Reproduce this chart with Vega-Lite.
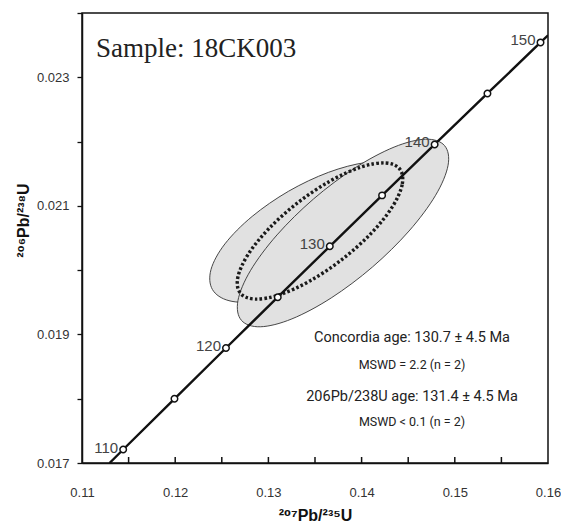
{
  "$schema": "https://vega.github.io/schema/vega-lite/v6.json",
  "width": 466,
  "height": 450,
  "autosize": "none",
  "padding": {"left": 82, "top": 13, "right": 13, "bottom": 64},
  "background": "white",
  "config": {
    "view": {"stroke": "#111", "strokeWidth": 1.5},
    "font": "Liberation Sans"
  },
  "datasets": {
    "ellA": [
      {"i": 0, "x": 0.145364, "y": 0.021488},
      {"i": 1, "x": 0.145515, "y": 0.021177},
      {"i": 2, "x": 0.144017, "y": 0.020778},
      {"i": 3, "x": 0.141097, "y": 0.020351},
      {"i": 4, "x": 0.137200, "y": 0.019960},
      {"i": 5, "x": 0.132918, "y": 0.019666},
      {"i": 6, "x": 0.128906, "y": 0.019513},
      {"i": 7, "x": 0.125770, "y": 0.019525},
      {"i": 8, "x": 0.123993, "y": 0.019699},
      {"i": 9, "x": 0.123841, "y": 0.020009},
      {"i": 10, "x": 0.125339, "y": 0.020409},
      {"i": 11, "x": 0.128260, "y": 0.020836},
      {"i": 12, "x": 0.132157, "y": 0.021227},
      {"i": 13, "x": 0.136438, "y": 0.021521},
      {"i": 14, "x": 0.140451, "y": 0.021674},
      {"i": 15, "x": 0.143586, "y": 0.021662}
    ],
    "ellB": [
      {"i": 0, "x": 0.148902, "y": 0.021937},
      {"i": 1, "x": 0.149278, "y": 0.021631},
      {"i": 2, "x": 0.147937, "y": 0.021164},
      {"i": 3, "x": 0.145084, "y": 0.020608},
      {"i": 4, "x": 0.141152, "y": 0.020047},
      {"i": 5, "x": 0.136742, "y": 0.019568},
      {"i": 6, "x": 0.132525, "y": 0.019242},
      {"i": 7, "x": 0.129141, "y": 0.019119},
      {"i": 8, "x": 0.127106, "y": 0.019219},
      {"i": 9, "x": 0.126731, "y": 0.019525},
      {"i": 10, "x": 0.128072, "y": 0.019992},
      {"i": 11, "x": 0.130925, "y": 0.020548},
      {"i": 12, "x": 0.134856, "y": 0.021109},
      {"i": 13, "x": 0.139266, "y": 0.021588},
      {"i": 14, "x": 0.143484, "y": 0.021914},
      {"i": 15, "x": 0.146868, "y": 0.022037}
    ],
    "ellD": [
      {"i": 0, "x": 0.144098, "y": 0.021572},
      {"i": 1, "x": 0.144353, "y": 0.021330},
      {"i": 2, "x": 0.143265, "y": 0.020977},
      {"i": 3, "x": 0.141001, "y": 0.020569},
      {"i": 4, "x": 0.137905, "y": 0.020167},
      {"i": 5, "x": 0.134447, "y": 0.019832},
      {"i": 6, "x": 0.131158, "y": 0.019615},
      {"i": 7, "x": 0.128533, "y": 0.019550},
      {"i": 8, "x": 0.126975, "y": 0.019646},
      {"i": 9, "x": 0.126720, "y": 0.019888},
      {"i": 10, "x": 0.127808, "y": 0.020241},
      {"i": 11, "x": 0.130072, "y": 0.020649},
      {"i": 12, "x": 0.133169, "y": 0.021051},
      {"i": 13, "x": 0.136626, "y": 0.021386},
      {"i": 14, "x": 0.139915, "y": 0.021603},
      {"i": 15, "x": 0.142540, "y": 0.021668}
    ],
    "conc": [
      {"t": 108.67, "x": 0.11296, "y": 0.017},
      {"t": 110, "x": 0.114419, "y": 0.017210},
      {"t": 115, "x": 0.119921, "y": 0.017999},
      {"t": 120, "x": 0.125449, "y": 0.018789},
      {"t": 125, "x": 0.131004, "y": 0.019580},
      {"t": 130, "x": 0.136588, "y": 0.020371},
      {"t": 135, "x": 0.142198, "y": 0.021163},
      {"t": 140, "x": 0.147837, "y": 0.021955},
      {"t": 145, "x": 0.153503, "y": 0.022748},
      {"t": 150, "x": 0.159197, "y": 0.023542},
      {"t": 150.7, "x": 0.16, "y": 0.023653}
    ],
    "pts": [
      {"t": 110, "x": 0.114419, "y": 0.017210, "lab": "110"},
      {"t": 115, "x": 0.119921, "y": 0.017999, "lab": ""},
      {"t": 120, "x": 0.125449, "y": 0.018789, "lab": "120"},
      {"t": 125, "x": 0.131004, "y": 0.019580, "lab": ""},
      {"t": 130, "x": 0.136588, "y": 0.020371, "lab": "130"},
      {"t": 135, "x": 0.142198, "y": 0.021163, "lab": ""},
      {"t": 140, "x": 0.147837, "y": 0.021955, "lab": "140"},
      {"t": 145, "x": 0.153503, "y": 0.022748, "lab": ""},
      {"t": 150, "x": 0.159197, "y": 0.023542, "lab": "150"}
    ],
    "xt": [
      {"x": 0.115, "y": 0.017},
      {"x": 0.12, "y": 0.017},
      {"x": 0.125, "y": 0.017},
      {"x": 0.13, "y": 0.017},
      {"x": 0.135, "y": 0.017},
      {"x": 0.14, "y": 0.017},
      {"x": 0.145, "y": 0.017},
      {"x": 0.15, "y": 0.017},
      {"x": 0.155, "y": 0.017}
    ],
    "sample": [
      {"x": 0.111502, "y": 0.023308, "text": "Sample: 18CK003"}
    ],
    "notes": [
      {"x": 0.145408, "y": 0.018944, "text": "Concordia age: 130.7 ± 4.5 Ma", "kind": "big"},
      {"x": 0.145408, "y": 0.018524, "text": "MSWD = 2.2 (n = 2)", "kind": "small"},
      {"x": 0.145408, "y": 0.018027, "text": "206Pb/238U age: 131.4 ± 4.5 Ma", "kind": "big"},
      {"x": 0.145408, "y": 0.017638, "text": "MSWD < 0.1 (n = 2)", "kind": "small"}
    ]
  },
  "encoding": {
    "x": {
      "field": "x",
      "type": "quantitative",
      "scale": {"domain": [0.11, 0.16], "zero": false, "nice": false},
      "axis": {
        "title": "²⁰⁷Pb/²³⁵U",
        "values": [0.11, 0.115, 0.12, 0.125, 0.13, 0.135, 0.14, 0.145, 0.15, 0.155, 0.16],
        "labelExpr": "round(datum.value*1000) % 10 == 0 ? format(datum.value, '.2f') : ''",
        "grid": false,
        "zindex": 1,
        "ticks": false,
        "domainColor": "#111",
        "domainWidth": 1.5,
        "labelFontSize": 13,
        "labelColor": "#333",
        "labelPadding": 23,
        "labelFlush": false,
        "labelOverlap": false,
        "titleFont": "Liberation Sans, DejaVu Sans",
        "titleFontSize": 16,
        "titleFontWeight": "bold",
        "titleColor": "#111",
        "titleY": 52,
        "titleBaseline": "middle"
      }
    },
    "y": {
      "field": "y",
      "type": "quantitative",
      "scale": {"domain": [0.017, 0.024], "zero": false, "nice": false},
      "axis": {
        "title": "²⁰⁶Pb/²³⁸U",
        "values": [0.017, 0.018, 0.019, 0.02, 0.021, 0.022, 0.023, 0.024],
        "labelExpr": "round(datum.value*1000) % 2 == 1 ? format(datum.value, '.3f') : ''",
        "grid": false,
        "zindex": 1,
        "tickSize": 5,
        "tickColor": "#111",
        "tickWidth": 1.3,
        "domainColor": "#111",
        "domainWidth": 1.5,
        "labelFontSize": 13,
        "labelColor": "#333",
        "labelPadding": 8,
        "labelFlush": false,
        "labelOverlap": false,
        "titleFont": "Liberation Sans, DejaVu Sans",
        "titleFontSize": 16,
        "titleFontWeight": "bold",
        "titleColor": "#111",
        "titleX": -59,
        "titleY": 207,
        "titleAlign": "center",
        "titleBaseline": "middle"
      }
    }
  },
  "layer": [
    {
      "data": {"name": "ellA"},
      "mark": {"type": "line", "interpolate": "cardinal-closed", "fill": "#e1e1e1", "stroke": "#333", "strokeWidth": 0.9},
      "encoding": {"order": {"field": "i", "type": "quantitative"}}
    },
    {
      "data": {"name": "ellB"},
      "mark": {"type": "line", "interpolate": "cardinal-closed", "fill": "#e1e1e1", "stroke": "#333", "strokeWidth": 0.9},
      "encoding": {"order": {"field": "i", "type": "quantitative"}}
    },
    {
      "data": {"name": "ellD"},
      "mark": {"type": "line", "interpolate": "cardinal-closed", "stroke": "#1a1a1a", "strokeWidth": 3.4, "strokeDash": [2.6, 2.2], "strokeCap": "butt"},
      "encoding": {"order": {"field": "i", "type": "quantitative"}}
    },
    {
      "data": {"name": "conc"},
      "mark": {"type": "line", "stroke": "#111", "strokeWidth": 2.4, "clip": true},
      "encoding": {"order": {"field": "t", "type": "quantitative"}}
    },
    {
      "data": {"name": "xt"},
      "mark": {"type": "tick", "orient": "vertical", "size": 12, "thickness": 1.5, "color": "#111", "opacity": 1, "clip": true}
    },
    {
      "data": {"name": "pts"},
      "mark": {"type": "point", "shape": "circle", "filled": true, "fill": "white", "stroke": "#111", "strokeWidth": 1.5, "size": 42, "opacity": 1}
    },
    {
      "data": {"name": "pts"},
      "mark": {"type": "text", "align": "right", "baseline": "middle", "dx": -5, "dy": -2, "fontSize": 15, "color": "#444"},
      "encoding": {"text": {"field": "lab"}}
    },
    {
      "data": {"name": "sample"},
      "mark": {"type": "text", "font": "Liberation Serif", "fontSize": 27, "align": "left", "baseline": "alphabetic", "color": "#222"},
      "encoding": {"text": {"field": "text"}}
    },
    {
      "data": {"name": "notes"},
      "transform": [{"filter": "datum.kind == 'big'"}],
      "mark": {"type": "text", "font": "Roboto", "fontSize": 14.5, "align": "center", "baseline": "middle", "color": "#222"},
      "encoding": {"text": {"field": "text"}}
    },
    {
      "data": {"name": "notes"},
      "transform": [{"filter": "datum.kind == 'small'"}],
      "mark": {"type": "text", "font": "Roboto", "fontSize": 12.5, "align": "center", "baseline": "middle", "color": "#222"},
      "encoding": {"text": {"field": "text"}}
    }
  ]
}
